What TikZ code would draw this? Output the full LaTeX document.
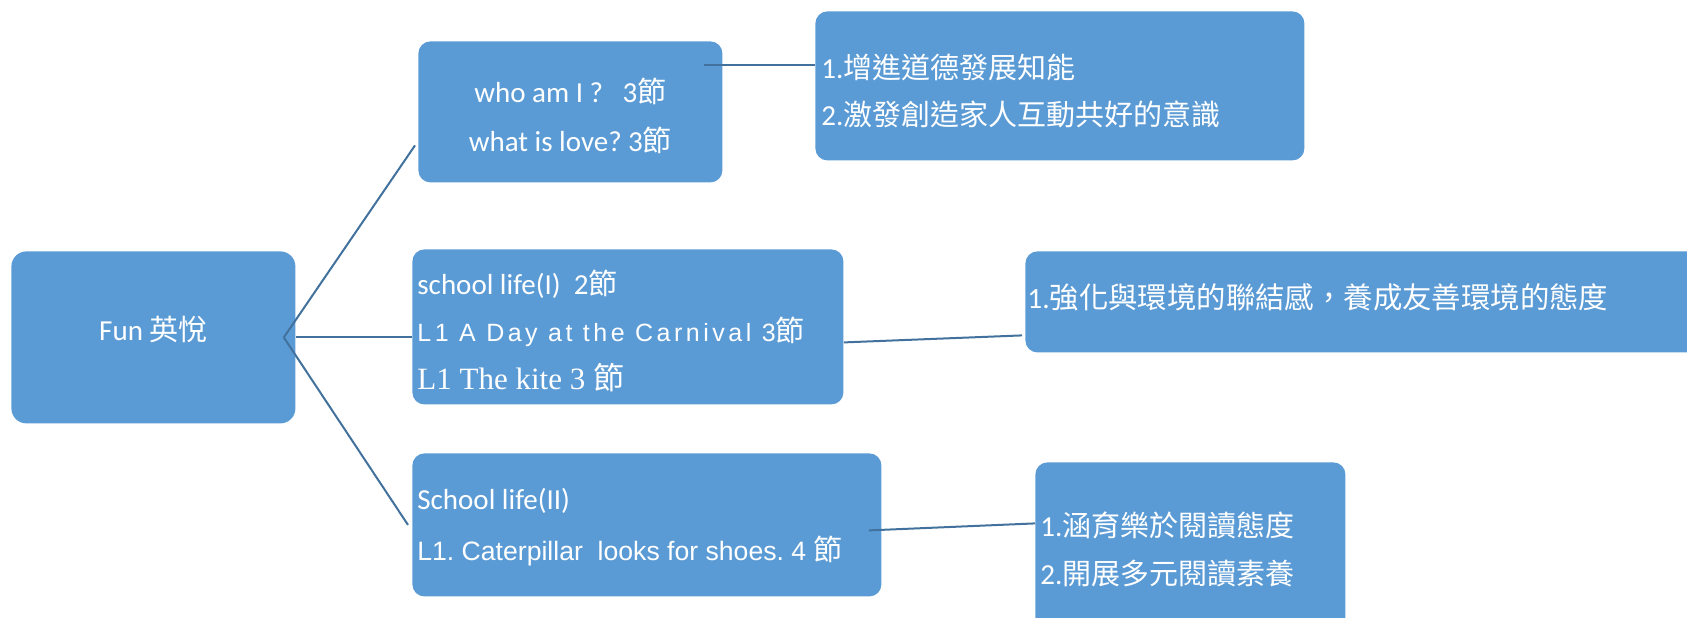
\documentclass[tikz,border=0pt]{standalone}
\usepackage{fontspec}
\setmainfont{Carlito}
\newfontfamily\cjk{Noto Sans CJK TC}
\newfontfamily\arialfnt{Liberation Sans}
\newfontfamily\arialsp[LetterSpace=14]{Liberation Sans}
\newfontfamily\romanfnt{Liberation Serif}
\usepackage{xcolor}
\usepackage{tikz}
\usetikzlibrary{positioning,calc}
\definecolor{boxblue}{RGB}{91,155,213}
\definecolor{linkblue}{RGB}{65,113,156}
\newcommand\jie{{\cjk 節}}
\frenchspacing

\begin{document}
\begin{tikzpicture}[x=0.5pt,y=-0.5pt,
  box/.style={fill=boxblue,text=white,rounded corners=6pt,anchor=north west,inner xsep=2.5pt,inner ysep=0pt,text height=12pt},
  link/.style={draw=linkblue,line width=1pt}]
\useasboundingbox (0,0) rectangle (1687,617);
\clip (0,0) rectangle (1687,617);
\node[box,rounded corners=7.5pt,minimum width=142pt,minimum height=86pt,text depth=9pt,font=\fontsize{14.5}{17}\selectfont] (rt) at (11,251) {Fun {\cjk 英悅}};
\node[box,minimum width=152pt,minimum height=70.5pt,text width=147pt,align=flush center,text depth=21pt,font=\fontsize{14.5}{24.25}\selectfont] (wh) at (418,41) {who am I ?~~~3\jie\\what is love? 3\jie};
\node[box,minimum width=215.5pt,minimum height=77.5pt,text width=210.5pt,align=flush left,text depth=44.5pt,font=\fontsize{14.5}{23.75}\selectfont] (s1) at (412,249)
  {school life(I)~~2\jie\\{\arialsp\fontsize{12.5}{23.75}\selectfont L1 A Day at the Carnival 3}\jie\\{\romanfnt\fontsize{15.5}{23.75}\selectfont L1 The kite 3 \jie}};
\node[box,minimum width=234.5pt,minimum height=71.5pt,text width=229.5pt,align=flush left,text depth=27pt,font=\fontsize{14.5}{25.5}\selectfont] (s2) at (412,453)
  {School life(II)\\{\arialfnt\fontsize{13.3}{25.5}\selectfont L1. Caterpillar~~looks for shoes. 4 }\jie};
% goals
\node[box,minimum width=244.5pt,minimum height=74.5pt,inner xsep=3pt,text width=238.5pt,align=flush left,text depth=19.5pt,font=\fontsize{14.5}{23.5}\selectfont] (r1) at (815,11)
  {1.{\cjk 增進道德發展知能}\\2.{\cjk 激發創造家人互動共好的意識}};
\node[box,minimum width=350pt,minimum height=50.5pt,inner xsep=1pt,text width=348pt,align=flush left,text depth=5.5pt,font=\fontsize{14.7}{17}\selectfont] (r2) at (1025,251)
  {1.{\cjk 強化與環境的聯結感，養成友善環境的態度}};
\node[box,minimum width=155pt,minimum height=86pt,text width=150pt,align=flush left,text depth=24pt,font=\fontsize{14.5}{24}\selectfont] (r3) at (1035,462)
  {1.{\cjk 涵育樂於閱讀態度}\\2.{\cjk 開展多元閱讀素養}};
% links
\coordinate (fork) at ([xshift=-6pt]rt.east);
\coordinate (wp) at ($(wh.north east)+(-9.5pt,-12pt)$);
\draw[link] (fork) -- ([xshift=-1.5pt,yshift=-16.75pt]wh.west);
\draw[link] (fork) -- ([xshift=-2pt]s2.west);
\draw[link] (rt.east) -- (rt.east -| s1.west);
\draw[link] (wp) -- (wp -| r1.west);
\draw[link] ([yshift=-7.75pt]s1.east) -- ([xshift=-1.5pt,yshift=-16.75pt]r2.west);
\draw[link] ([xshift=-6.5pt,yshift=-2.75pt]s2.east) -- ([yshift=12.5pt]r3.west);
\end{tikzpicture}
\end{document}
